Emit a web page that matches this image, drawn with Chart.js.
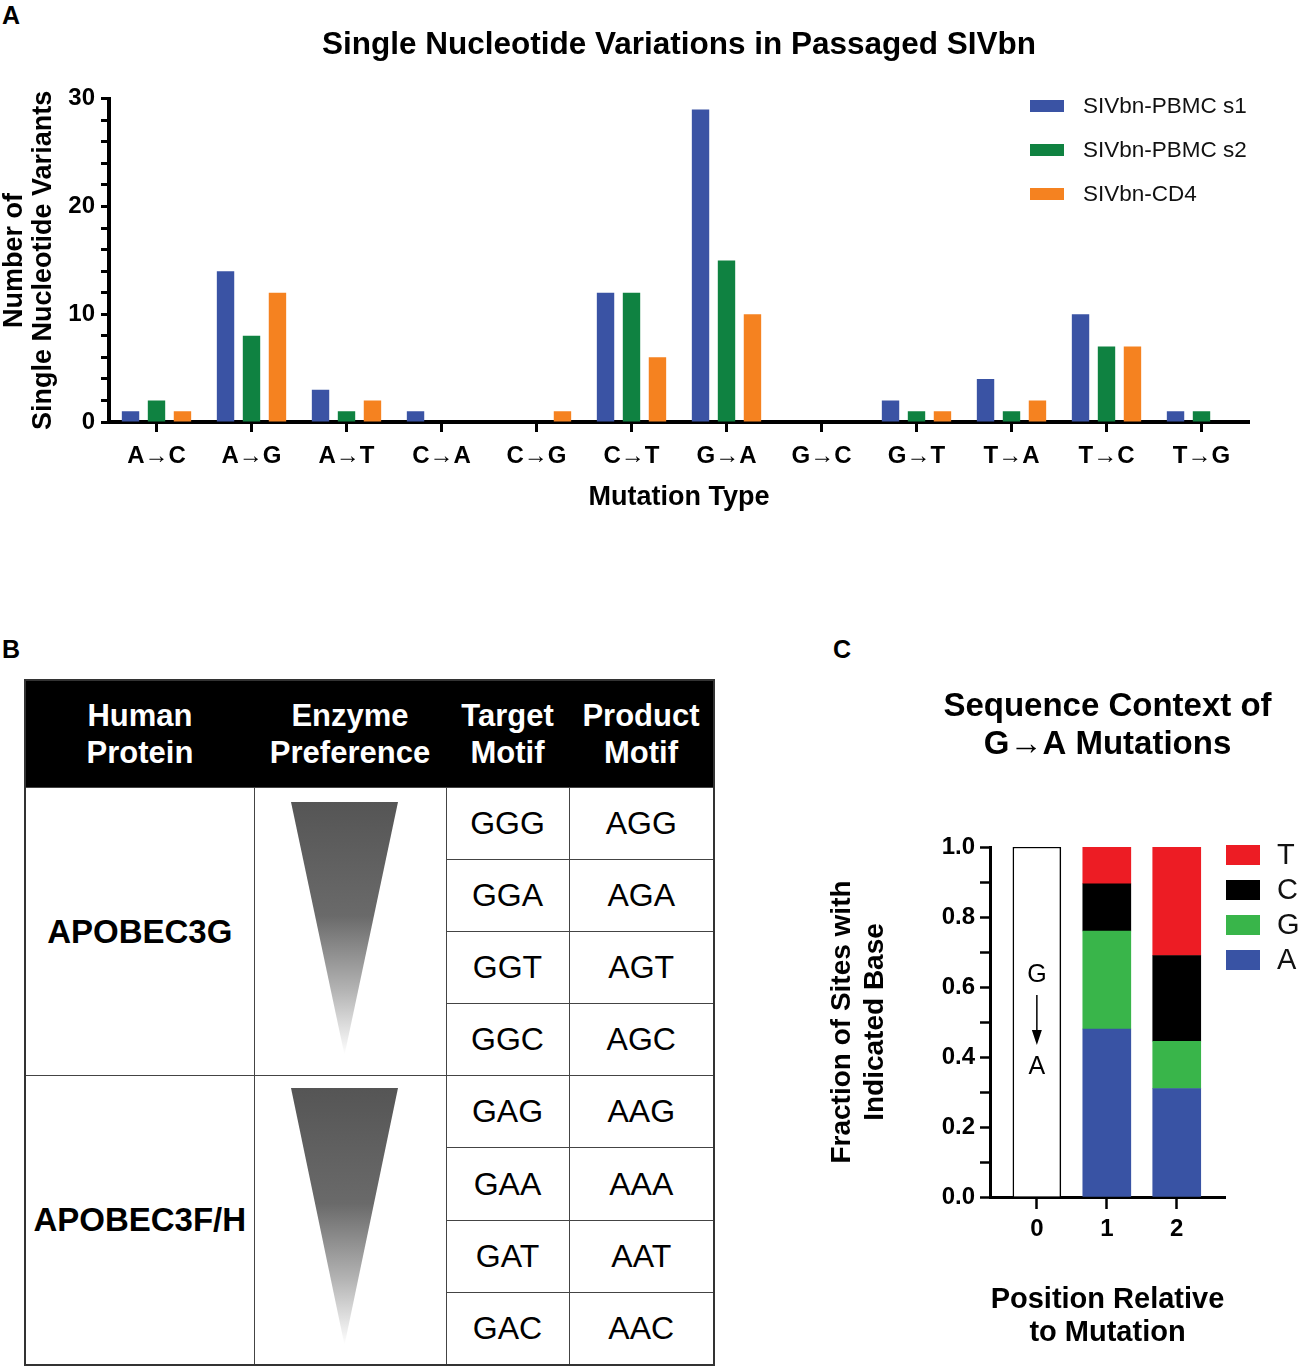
<!DOCTYPE html>
<html>
<head>
<meta charset="utf-8">
<script src="https://cdn.jsdelivr.net/npm/chart.js@4.4.1/dist/chart.umd.min.js"></script>
<style>
  body { margin: 0; width: 1299px; height: 1370px; position: relative; background: #fff; font-family: "Liberation Sans", Arial, sans-serif; overflow: hidden; }
  .panel { position: absolute; font-size: 25px; font-weight: bold; line-height: 1; }
  .box { position: absolute; }
  #motifTable { position: absolute; left: 24px; top: 679px; width: 689px; border-collapse: collapse; table-layout: fixed; border: 2px solid #333; }
  #motifTable th { background: #000; color: #fff; font-size: 31px; font-weight: bold; line-height: 37px; height: 106px; padding: 0; border: none; }
  #motifTable td { border: 1.5px solid #444; text-align: center; font-size: 32px; height: 71.1px; padding: 0; }
  #motifTable td.protein { font-weight: bold; font-size: 33px; }
  .wedge { position: absolute; width: 107px; clip-path: polygon(0 0, 100% 0, 50% 100%);
           background: linear-gradient(to bottom, #555 0%, #6a6a6a 45%, #b5b5b5 75%, #fff 100%); }
</style>
</head>
<body>
<div class="panel" style="left:2px;top:3px">A</div>
<div class="box" style="left:0;top:0;width:1299px;height:530px"><canvas id="snvChart"></canvas></div>

<div class="panel" style="left:2px;top:637px">B</div>
<table id="motifTable"></table>
<div class="wedge" style="left:291px;top:802px;height:253px"></div>
<div class="wedge" style="left:291px;top:1088px;height:257px"></div>

<div class="panel" style="left:833px;top:637px">C</div>
<div class="box" style="left:800px;top:640px;width:499px;height:730px"><canvas id="contextChart"></canvas></div>

<script>
var FONT = '"Liberation Sans", Arial, sans-serif';

// panel A
var mutationTypes = ['A→C', 'A→G', 'A→T', 'C→A', 'C→G', 'C→T', 'G→A', 'G→C', 'G→T', 'T→A', 'T→C', 'T→G'];
var seriesNames = ['SIVbn-PBMC s1', 'SIVbn-PBMC s2', 'SIVbn-CD4'];
var pbmcS1 = [1, 14, 3, 1, 0, 12, 29, 0, 2, 4, 10, 1];
var pbmcS2 = [2, 8, 1, 0, 0, 12, 15, 0, 1, 1, 7, 1];
var cd4    = [1, 12, 2, 0, 1, 6, 10, 0, 1, 2, 7, 0];

// panel B
var headers = [['Human', 'Protein'], ['Enzyme', 'Preference'], ['Target', 'Motif'], ['Product', 'Motif']];
var proteins = ['APOBEC3G', 'APOBEC3F/H'];
var targetMotifs = [['GGG', 'GGA', 'GGT', 'GGC'], ['GAG', 'GAA', 'GAT', 'GAC']];
var productMotifs = [['AGG', 'AGA', 'AGT', 'AGC'], ['AAG', 'AAA', 'AAT', 'AAC']];

// panel C
var positions = [0, 1, 2];
var contextPositions = [1, 2];
var bases = ['A', 'G', 'C', 'T'];
var fracA = [0.48, 0.31];
var fracG = [0.28, 0.135];
var fracC = [0.135, 0.245];
var fracT = [0.105, 0.31];

Chart.defaults.font.family = FONT;
Chart.defaults.color = '#000';

// legend drawn as a column of boxes + labels
var boxLegend = {
    id: 'boxLegend',
    afterDraw: function(chart, args, opts) {
        var ctx = chart.ctx;
        var items = chart.data.datasets.filter(function(d) { return d.inLegend !== false; });
        if (opts.reverse) items = items.slice().reverse();
        ctx.save();
        ctx.font = opts.font;
        ctx.textBaseline = 'middle';
        ctx.textAlign = 'left';
        items.forEach(function(ds, i) {
            var y = opts.y + i * opts.gap;
            ctx.fillStyle = ds.backgroundColor;
            ctx.fillRect(opts.x, y - opts.boxH / 2, opts.boxW, opts.boxH);
            ctx.fillStyle = '#111';
            ctx.fillText(ds.label, opts.x + opts.boxW + opts.textGap, y + 1);
        });
        ctx.restore();
    }
};

// title centred over the plot area, without squeezing it to the plot width
var areaTitle = {
    id: 'areaTitle',
    afterDraw: function(chart, args, opts) {
        var ctx = chart.ctx, a = chart.chartArea;
        ctx.save();
        ctx.font = opts.font;
        ctx.fillStyle = '#000';
        ctx.textAlign = 'center';
        ctx.textBaseline = 'middle';
        opts.text.forEach(function(t, i) {
            ctx.fillText(t, (a.left + a.right) / 2, opts.y + i * opts.lineHeight);
        });
        ctx.restore();
    }
};

function buildTable() {
    var t = document.getElementById('motifTable');
    var html = '<colgroup><col style="width:229px"><col style="width:192px"><col style="width:123px"><col style="width:145px"></colgroup>';
    html += '<tr>' + headers.map(function(h) { return '<th>' + h.join('<br>') + '</th>'; }).join('') + '</tr>';
    proteins.forEach(function(p, i) {
        targetMotifs[i].forEach(function(m, j) {
            html += '<tr>';
            if (j == 0) {
                html += '<td class="protein" rowspan="4">' + p + '</td><td rowspan="4"></td>';
            }
            html += '<td>' + m + '</td><td>' + productMotifs[i][j] + '</td></tr>';
        });
    });
    t.innerHTML = html;
}

function createSnvChart() {
    var colors = ['#3a53a4', '#0f8241', '#f58220'];
    var values = [pbmcS1, pbmcS2, cd4];
    var config = {
        type: 'bar',
        data: {
            labels: mutationTypes,
            datasets: values.map(function(v, i) {
                return { label: seriesNames[i], data: v, backgroundColor: colors[i],
                         categoryPercentage: 0.82, barPercentage: 0.67 };
            })
        },
        options: {
            responsive: true,
            maintainAspectRatio: false,
            animation: false,
            layout: { padding: { left: 0, right: 50, top: 0, bottom: 16 } },
            plugins: {
                legend: { display: false },
                tooltip: { enabled: false },
                title: {
                    display: true,
                    text: 'Single Nucleotide Variations in Passaged SIVbn',
                    fullSize: false,
                    color: '#000',
                    font: { size: 31.5, weight: 'bold', lineHeight: 1.2 },
                    padding: { top: 26, bottom: 35 }
                },
                boxLegend: { x: 1030, y: 106, gap: 44, boxW: 34, boxH: 12, textGap: 19, font: '22.5px ' + FONT }
            },
            scales: {
                x: {
                    z: 1,
                    offset: true,
                    grid: { offset: false, drawOnChartArea: false, tickLength: 10, tickWidth: 3, tickColor: '#000' },
                    border: { color: '#000', width: 4 },
                    ticks: { color: '#000', font: { size: 24, weight: 'bold' }, padding: 10, maxRotation: 0, autoSkip: false },
                    title: { display: true, text: 'Mutation Type', color: '#000',
                             font: { size: 27, weight: 'bold', lineHeight: 1.2 }, padding: 0 },
                    afterFit: function(s) { s.height = 92; }
                },
                y: {
                    z: 1,
                    min: 0,
                    max: 30,
                    grid: { drawOnChartArea: false, tickLength: 8, tickWidth: 3, tickColor: '#000' },
                    border: { color: '#000', width: 4 },
                    ticks: {
                        stepSize: 2,
                        autoSkip: false,
                        color: '#000',
                        padding: 6,
                        font: { size: 24, weight: 'bold' },
                        callback: function(v) { return v % 10 === 0 ? v : ''; }
                    },
                    title: { display: true, text: ['Number of', 'Single Nucleotide Variants'], color: '#000',
                             font: { size: 27, weight: 'bold', lineHeight: 1.07 }, padding: 0 },
                    afterFit: function(s) { s.width = 109; }
                }
            }
        },
        plugins: [boxLegend]
    };
    new Chart(document.getElementById('snvChart'), config);
}

// "G -> A" note inside the empty bar at position 0
var mutationMark = {
    id: 'mutationMark',
    afterDatasetsDraw: function(chart) {
        var ctx = chart.ctx, xs = chart.scales.x, ys = chart.scales.y;
        var x = xs.getPixelForValue(0);
        var yTop = ys.getPixelForValue(0.577), yTip = ys.getPixelForValue(0.434);
        ctx.save();
        ctx.fillStyle = '#000';
        ctx.strokeStyle = '#000';
        ctx.font = '25px ' + FONT;
        ctx.textAlign = 'center';
        ctx.textBaseline = 'middle';
        ctx.fillText('G', x, ys.getPixelForValue(0.634));
        ctx.fillText('A', x, ys.getPixelForValue(0.371));
        ctx.lineWidth = 1.5;
        ctx.beginPath();
        ctx.moveTo(x, yTop);
        ctx.lineTo(x, yTip - 12);
        ctx.stroke();
        ctx.beginPath();
        ctx.moveTo(x - 5, yTip - 15);
        ctx.lineTo(x + 5, yTip - 15);
        ctx.lineTo(x, yTip);
        ctx.closePath();
        ctx.fill();
        ctx.restore();
    }
};

function createContextChart() {
    var colors = { A: '#3953a4', G: '#39b54a', C: '#000000', T: '#ed1c24' };
    var fractions = { A: fracA, G: fracG, C: fracC, T: fracT };
    var datasets = [{
        label: 'G→A',
        inLegend: false,
        data: [{ x: positions[0], y: 1 }],
        backgroundColor: '#fff',
        borderColor: '#000',
        borderWidth: 1.5,
        barThickness: 48
    }];
    bases.forEach(function(b) {
        datasets.push({
            label: b,
            data: contextPositions.map(function(p, i) { return { x: p, y: fractions[b][i] }; }),
            backgroundColor: colors[b],
            barThickness: 48
        });
    });

    var config = {
        type: 'bar',
        data: { datasets: datasets },
        options: {
            responsive: true,
            maintainAspectRatio: false,
            animation: false,
            layout: { padding: { left: 0, right: 74, top: 207, bottom: 20 } },
            plugins: {
                legend: { display: false },
                tooltip: { enabled: false },
                title: { display: false },
                areaTitle: { text: ['Sequence Context of', 'G→A Mutations'], y: 67, lineHeight: 38,
                             font: 'bold 33px ' + FONT },
                boxLegend: { x: 426, y: 215, gap: 35, boxW: 34, boxH: 20, textGap: 17, font: '29px ' + FONT, reverse: true }
            },
            scales: {
                x: {
                    type: 'linear',
                    z: 1,
                    min: -0.67,
                    max: 2.69,
                    stacked: true,
                    offset: false,
                    afterBuildTicks: function(s) { s.ticks = positions.map(function(v) { return { value: v }; }); },
                    grid: { offset: false, drawOnChartArea: false, tickLength: 12, tickWidth: 2.5, tickColor: '#000' },
                    border: { color: '#000', width: 3 },
                    ticks: { color: '#000', font: { size: 24, weight: 'bold' }, padding: 6 },
                    title: { display: true, text: ['Position Relative', 'to Mutation'], color: '#000',
                             font: { size: 29, weight: 'bold', lineHeight: 1.15 }, padding: 0 },
                    afterFit: function(s) { s.height = 153; }
                },
                y: {
                    z: 1,
                    min: 0,
                    max: 1,
                    stacked: true,
                    grid: { drawOnChartArea: false, tickLength: 10, tickWidth: 2.5, tickColor: '#000' },
                    border: { color: '#000', width: 3 },
                    ticks: {
                        stepSize: 0.1,
                        autoSkip: false,
                        color: '#000',
                        padding: 5,
                        font: { size: 24, weight: 'bold' },
                        callback: function(v) { return Math.round(v * 10) % 2 === 0 ? v.toFixed(1) : ''; }
                    },
                    title: { display: true, text: ['Fraction of Sites with', 'Indicated Base'], color: '#000',
                             font: { size: 28, weight: 'bold', lineHeight: 1.2 }, padding: { top: 25 } },
                    afterFit: function(s) { s.width = 190; }
                }
            }
        },
        plugins: [boxLegend, areaTitle, mutationMark]
    };
    new Chart(document.getElementById('contextChart'), config);
}

buildTable();
createSnvChart();
createContextChart();
</script>
</body>
</html>
